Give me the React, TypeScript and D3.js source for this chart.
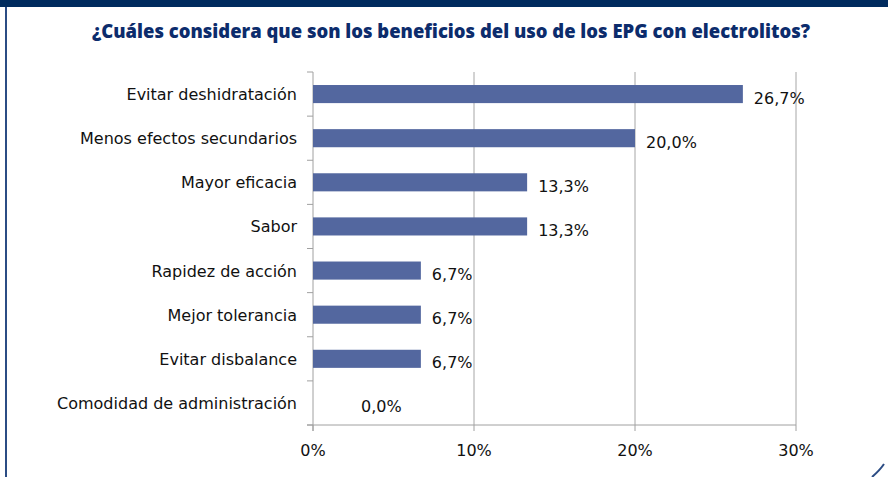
import React from "react";
import * as d3 from "d3";

const categories = [
  "Evitar deshidratación",
  "Menos efectos secundarios",
  "Mayor eficacia",
  "Sabor",
  "Rapidez de acción",
  "Mejor tolerancia",
  "Evitar disbalance",
  "Comodidad de administración",
];
const values = [26.7, 20.0, 13.3, 13.3, 6.7, 6.7, 6.7, 0.0];
const xTicks = [0, 10, 20, 30];
const title = "¿Cuáles considera que son los beneficios del uso de los EPG con electrolitos?";

const W = 888;
const H = 477;
const left = 313;
const right = 796;
const top = 72;
const bottom = 425;
const font = "'DejaVu Sans', sans-serif";

export default function App() {
  const x = d3.scaleLinear().domain([0, 30]).range([left, right]);
  const y = d3
    .scaleBand<string>()
    .domain(categories)
    .range([top, bottom])
    .paddingInner(0.59)
    .paddingOuter(0.295);
  const step = (bottom - top) / categories.length;
  const fmt = (v: number) => v.toFixed(1).replace(".", ",") + "%";

  return (
    <svg
      width={W}
      height={H}
      style={{ position: "absolute", left: 0, top: 0, background: "#fff" }}
    >
      <rect x={0} y={0} width={W} height={7} fill="#002B5E" />
      <rect x={5} y={7} width={2} height={H - 7} fill="#2B4C84" />
      <path d="M872,477 Q880,470 884,464" stroke="#2B4C84" strokeWidth={2} fill="none" />
      <text
        x={451}
        y={38}
        textAnchor="middle"
        fontFamily="'Open Sans', 'Noto Sans', sans-serif"
        fontWeight={800}
        fontSize={19}
        fill="#0C2C6C"
        textLength={718}
        lengthAdjust="spacingAndGlyphs"
      >
        {title}
      </text>
      {/* gridlines */}
      {xTicks.slice(1).map((t) => (
        <line key={t} x1={x(t)} x2={x(t)} y1={top} y2={bottom} stroke="#A6A6A6" strokeWidth={1} />
      ))}
      {/* y axis */}
      <line x1={left} x2={left} y1={top} y2={bottom + 6} stroke="#A0A0A0" strokeWidth={1} />
      {d3.range(categories.length + 1).map((i) => (
        <line
          key={i}
          x1={left - 6}
          x2={left}
          y1={top + i * step}
          y2={top + i * step}
          stroke="#A0A0A0"
        />
      ))}
      {/* x axis */}
      <line x1={left - 6} x2={right} y1={bottom} y2={bottom} stroke="#A0A0A0" strokeWidth={1} />
      {xTicks.map((t) => (
        <g key={t}>
          <line x1={x(t)} x2={x(t)} y1={bottom} y2={bottom + 6} stroke="#A0A0A0" />
          <text
            x={x(t)}
            y={456}
            textAnchor="middle"
            fontFamily={font}
            fontSize={16}
            fill="#111"
          >
            {t + "%"}
          </text>
        </g>
      ))}
      {/* bars */}
      {categories.map((c, i) => (
        <g key={c}>
          {values[i] > 0 && (
            <rect
              x={x(0)}
              y={y(c)}
              width={x(values[i]) - x(0)}
              height={y.bandwidth()}
              fill="#53679F"
            />
          )}
          <text
            x={297}
            y={(y(c) as number) + y.bandwidth() / 2 + 6}
            textAnchor="end"
            fontFamily={font}
            fontSize={16}
            fill="#111"
          >
            {c}
          </text>
          <text
            x={x(values[i]) + (values[i] > 0 ? 11 : 48)}
            y={(y(c) as number) + y.bandwidth() / 2 + 9.5}
            fontFamily={font}
            fontSize={16}
            fill="#111"
          >
            {fmt(values[i])}
          </text>
        </g>
      ))}
    </svg>
  );
}
